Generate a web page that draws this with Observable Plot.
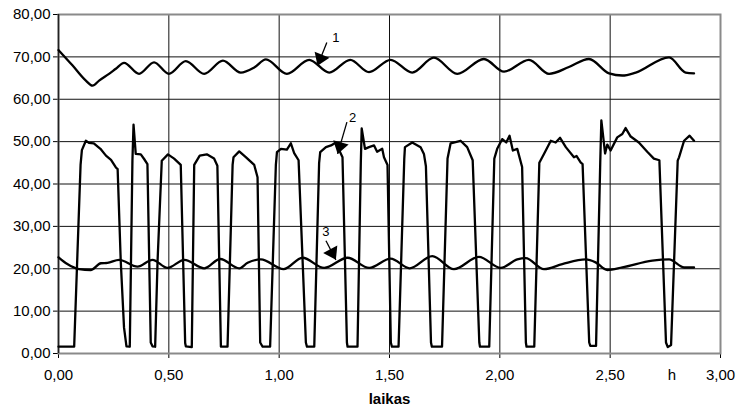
<!DOCTYPE html>
<html>
<head>
<meta charset="utf-8">
<script src="https://cdn.jsdelivr.net/npm/d3@7"></script>
<script src="https://cdn.jsdelivr.net/npm/@observablehq/plot@0.6"></script>
<style>
  html, body { margin: 0; padding: 0; background: #fff; }
  #chart { width: 738px; height: 409px; }
</style>
</head>
<body>
<div id="chart"></div>
<script>
// ---- data ----
const xTicks = [0, 0.5, 1, 1.5, 2, 2.5, 3];
const yTicks = [0, 10, 20, 30, 40, 50, 60, 70, 80];
const xLabel = "laikas";
const unitLabel = "h";
const unitLabelX = 2.78;

// series 1 (top, ~63-71)
const series1 = [
  [0,71.6],[0.063,68.0],[0.124,64.4],[0.154,63.2],[0.184,64.4],[0.229,66.0],[0.26,67.2],[0.297,68.6],
  [0.365,66.0],[0.433,68.7],[0.5,66.0],[0.577,69.0],[0.66,66.0],[0.745,69.1],[0.826,66.3],[0.887,67.5],
  [0.94,69.4],[1.035,66.0],[1.136,69.3],[1.227,66.3],[1.322,69.3],[1.407,66.4],[1.505,69.3],[1.603,66.3],
  [1.701,69.8],[1.807,66.0],[1.928,69.5],[2.019,66.5],[2.132,69.3],[2.223,66.0],[2.313,67.6],[2.404,69.5],
  [2.495,66.1],[2.555,65.6],[2.616,66.3],[2.767,69.9],[2.842,66.3],[2.88,66.1]
];

// series 2 (pulses, ~1.6-55)
const series2 = [
  [0,1.6],[0.071,1.6],[0.1,44.5],[0.106,48],[0.124,50.2],[0.138,49.7],[0.16,49.6],[0.19,48.3],[0.215,46.7],
  [0.238,45.7],[0.26,43.9],[0.268,43.5],[0.282,21.9],[0.297,6.1],[0.308,1.7],[0.323,1.6],[0.335,45.5],
  [0.34,54.0],[0.35,47.1],[0.373,47],[0.388,45.9],[0.403,44.7],[0.418,2.6],[0.426,1.7],[0.438,1.6],
  [0.449,21.9],[0.468,45.5],[0.496,47.0],[0.524,46.0],[0.554,44.5],[0.574,2.5],[0.577,1.7],[0.604,1.5],
  [0.615,44.5],[0.64,46.7],[0.672,47.0],[0.705,46.0],[0.72,44.3],[0.736,1.6],[0.766,1.6],[0.789,44.5],
  [0.793,46.3],[0.819,47.7],[0.85,46.3],[0.887,44.5],[0.902,41.6],[0.914,2.6],[0.925,1.6],[0.959,1.6],
  [0.985,44.5],[0.99,47.5],[1.008,48.3],[1.035,48.1],[1.053,49.6],[1.068,47.3],[1.088,45.6],[1.121,2.6],
  [1.126,1.6],[1.159,1.6],[1.181,44.9],[1.186,47.5],[1.212,48.7],[1.235,49.1],[1.257,49.8],[1.272,48],
  [1.287,46.3],[1.307,2.6],[1.31,1.6],[1.355,1.6],[1.37,45],[1.374,53.1],[1.389,48.3],[1.407,48.7],
  [1.43,49.1],[1.444,47.6],[1.467,48.3],[1.475,46.3],[1.491,44.5],[1.506,2.6],[1.511,1.6],[1.541,1.6],
  [1.567,46],[1.57,48.7],[1.603,49.8],[1.641,48.7],[1.656,47.1],[1.665,44.2],[1.688,2.6],[1.692,1.6],
  [1.738,1.6],[1.763,46],[1.777,49.6],[1.822,50.2],[1.852,48.7],[1.877,45.6],[1.907,2.6],[1.91,1.6],
  [1.952,1.6],[1.975,46],[1.988,48.3],[2.011,50.6],[2.029,49.8],[2.044,51.4],[2.059,47.9],[2.079,48.3],
  [2.101,44],[2.118,2.6],[2.121,1.6],[2.156,1.6],[2.179,45],[2.2,47.1],[2.231,50.2],[2.253,49.8],
  [2.273,50.9],[2.299,48.7],[2.336,46.3],[2.348,46.6],[2.366,45.1],[2.375,44.7],[2.405,2.6],[2.41,1.8],
  [2.436,1.8],[2.455,45],[2.46,55.0],[2.477,47.2],[2.487,49.3],[2.502,47.9],[2.532,51.0],[2.555,51.8],
  [2.57,53.2],[2.593,51.2],[2.63,49.8],[2.668,47.6],[2.698,46],[2.723,45.6],[2.753,2.6],[2.761,1.5],
  [2.776,2],[2.806,45.5],[2.812,46.3],[2.835,50.2],[2.86,51.4],[2.88,50.2]
];

// series 3 (bottom, ~20-23)
const series3 = [
  [0,22.7],[0.04,21.1],[0.093,19.9],[0.146,19.7],[0.192,21.3],[0.222,21.4],[0.275,22.1],[0.358,20.5],
  [0.426,22.1],[0.494,20.2],[0.570,22.1],[0.66,20.1],[0.733,22.3],[0.819,20.1],[0.857,21.4],[0.917,22.2],
  [1.02,19.9],[1.106,22.6],[1.204,20.2],[1.31,22.6],[1.408,20.2],[1.505,22.4],[1.591,20.1],[1.694,23.0],
  [1.792,19.9],[1.905,22.8],[2.004,20.2],[2.079,22.2],[2.117,22.5],[2.2,19.9],[2.283,21.1],[2.389,22.2],
  [2.434,21.5],[2.487,19.7],[2.555,20.3],[2.691,21.9],[2.767,22.2],[2.835,20.3],[2.88,20.3]
];

// annotation labels: text position, arrow tail, arrow tip, head rotation (deg clockwise from up)
const annLabels = ["1", "2", "3"];
const annTextX  = [1.257, 1.333, 1.212];
const annTextY  = [74.4, 55.6, 28.7];
const annTailX  = [1.216, 1.307, 1.212];
const annTailY  = [73.4, 54.6, 26.6];
const annTipX   = [1.174, 1.265, 1.257];
const annTipY   = [67.9, 47.1, 22.1];
const annAngle  = [202, 196, 152];

// ---- build ----
const toRows = (arr) => arr.map(([x, y]) => ({x, y}));
const ann = annLabels.map((t, i) => ({
  t, tx: annTextX[i], ty: annTextY[i], x1: annTailX[i], y1: annTailY[i],
  x2: annTipX[i], y2: annTipY[i], a: annAngle[i]
}));
const fmt = d => d.toFixed(2).replace(".", ",");
const font = "'Liberation Sans', Arial, sans-serif";

function build(useSpike) {
  const head = useSpike
    ? Plot.vector(ann, {x: "x2", y: "y2", rotate: "a", length: 12, r: 8, shape: "spike", anchor: "end", fill: "black", stroke: "none"})
    : Plot.dot(ann, {x: "x2", y: "y2", rotate: "a", symbol: "triangle", r: 6, fill: "black", stroke: "none"});
  return Plot.plot({
    width: 738,
    height: 409,
    marginLeft: 58,
    marginRight: 18,
    marginTop: 14,
    marginBottom: 56,
    style: {fontFamily: font, fontSize: "15px", color: "black", background: "white", overflow: "visible"},
    x: {domain: [0, 3], ticks: xTicks, tickFormat: fmt, tickSize: 5, tickPadding: 11, label: null},
    y: {domain: [0, 80], ticks: yTicks, tickFormat: fmt, tickSize: 5, tickPadding: 3, label: null},
    marks: [
      Plot.ruleX(xTicks.slice(1, -1), {stroke: "#111", strokeWidth: 1}),
      Plot.ruleY(yTicks.slice(1, -1), {stroke: "#111", strokeWidth: 1}),
      Plot.frame({stroke: "#8a8a8a", strokeWidth: 2}),
      Plot.ruleX([0], {stroke: "#222", strokeWidth: 1.5}),
      Plot.line(toRows(series1), {x: "x", y: "y", curve: "monotone-x", stroke: "black", strokeWidth: 2.3}),
      Plot.line(toRows(series2), {x: "x", y: "y", curve: "linear", stroke: "black", strokeWidth: 2.3, strokeLinejoin: "round"}),
      Plot.line(toRows(series3), {x: "x", y: "y", curve: "monotone-x", stroke: "black", strokeWidth: 2.3}),
      Plot.link(ann, {x1: "x1", y1: "y1", x2: "x2", y2: "y2", stroke: "black", strokeWidth: 1.3}),
      head,
      Plot.text(ann, {x: "tx", y: "ty", text: "t", fontSize: 13, fill: "black"}),
      Plot.text([unitLabel], {x: unitLabelX, text: d => d, frameAnchor: "bottom", lineAnchor: "top", dy: 16, fontSize: 15, fill: "black"}),
      Plot.text([xLabel], {text: d => d, frameAnchor: "bottom", lineAnchor: "middle", dy: 46, fontSize: 15, fontWeight: "bold", fill: "black"})
    ]
  });
}

let chart;
try { chart = build(true); } catch (e) { chart = build(false); }
document.getElementById("chart").appendChild(chart);
</script>
</body>
</html>
